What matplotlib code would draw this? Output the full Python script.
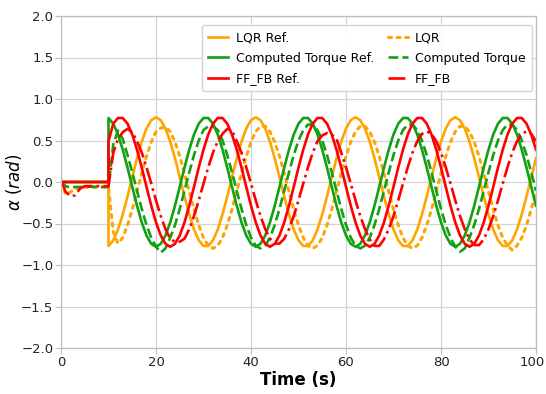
import matplotlib
matplotlib.use('Agg')
import matplotlib.pyplot as plt
from matplotlib.transforms import ScaledTranslation

plt.rcParams['font.family'] = ['DejaVu Sans']
plt.rcParams['axes.unicode_minus'] = True
plt.rcParams['mathtext.fontset'] = 'dejavusans'

# sample times (s); t = 10 appears twice to show the step of the references
time_s = list(range(0, 11)) + list(range(10, 101))

x_ticks = [0, 20, 40, 60, 80, 100]
y_ticks = [-2.0, -1.5, -1.0, -0.5, 0.0, 0.5, 1.0, 1.5, 2.0]

lqr_ref = [
    0, 0, 0, 0, 0, 0, 0, 0, 0, 0, 0,
    -0.771, -0.703, -0.572, -0.39, -0.174, 0.058, 0.285, 0.486, 0.644, 0.745, 0.78, 0.745, 0.644, 0.486, 0.285, 0.058, -0.174, -0.39, -0.572, -0.703, -0.771,
    -0.771, -0.703, -0.572, -0.39, -0.174, 0.058, 0.285, 0.486, 0.644, 0.745, 0.78, 0.745, 0.644, 0.486, 0.285, 0.058, -0.174, -0.39, -0.572, -0.703, -0.771,
    -0.771, -0.703, -0.572, -0.39, -0.174, 0.058, 0.285, 0.486, 0.644, 0.745, 0.78, 0.745, 0.644, 0.486, 0.285, 0.058, -0.174, -0.39, -0.572, -0.703, -0.771,
    -0.771, -0.703, -0.572, -0.39, -0.174, 0.058, 0.285, 0.486, 0.644, 0.745, 0.78, 0.745, 0.644, 0.486, 0.285, 0.058, -0.174, -0.39, -0.572, -0.703, -0.771,
    -0.771, -0.703, -0.572, -0.39, -0.174, 0.058, 0.285,
]

ct_ref = [
    0, 0, 0, 0, 0, 0, 0, 0, 0, 0, 0,
    0.771, 0.703, 0.572, 0.39, 0.174, -0.058, -0.285, -0.486, -0.644, -0.745, -0.78, -0.745, -0.644, -0.486, -0.285, -0.058, 0.174, 0.39, 0.572, 0.703, 0.771,
    0.771, 0.703, 0.572, 0.39, 0.174, -0.058, -0.285, -0.486, -0.644, -0.745, -0.78, -0.745, -0.644, -0.486, -0.285, -0.058, 0.174, 0.39, 0.572, 0.703, 0.771,
    0.771, 0.703, 0.572, 0.39, 0.174, -0.058, -0.285, -0.486, -0.644, -0.745, -0.78, -0.745, -0.644, -0.486, -0.285, -0.058, 0.174, 0.39, 0.572, 0.703, 0.771,
    0.771, 0.703, 0.572, 0.39, 0.174, -0.058, -0.285, -0.486, -0.644, -0.745, -0.78, -0.745, -0.644, -0.486, -0.285, -0.058, 0.174, 0.39, 0.572, 0.703, 0.771,
    0.771, 0.703, 0.572, 0.39, 0.174, -0.058, -0.285,
]

ff_ref = [
    0, 0, 0, 0, 0, 0, 0, 0, 0, 0, 0,
    0.49, 0.703, 0.771,
    0.771, 0.703, 0.572, 0.39, 0.174, -0.058, -0.285, -0.486, -0.644, -0.745, -0.78, -0.745, -0.644, -0.486, -0.285, -0.058, 0.174, 0.39, 0.572, 0.703, 0.771,
    0.771, 0.703, 0.572, 0.39, 0.174, -0.058, -0.285, -0.486, -0.644, -0.745, -0.78, -0.745, -0.644, -0.486, -0.285, -0.058, 0.174, 0.39, 0.572, 0.703, 0.771,
    0.771, 0.703, 0.572, 0.39, 0.174, -0.058, -0.285, -0.486, -0.644, -0.745, -0.78, -0.745, -0.644, -0.486, -0.285, -0.058, 0.174, 0.39, 0.572, 0.703, 0.771,
    0.771, 0.703, 0.572, 0.39, 0.174, -0.058, -0.285, -0.486, -0.644, -0.745, -0.78, -0.745, -0.644, -0.486, -0.285, -0.058, 0.174, 0.39, 0.572, 0.703, 0.771,
    0.771, 0.703, 0.572, 0.39,
]

lqr_resp = [
    0.0, -0.15, -0.12, -0.08, -0.07, -0.065, -0.06, -0.06, -0.06, -0.06, -0.06,
    -0.06, -0.6,
    -0.74, -0.671, -0.521, -0.33, -0.115, 0.105, 0.31, 0.482, 0.607, 0.65, 0.66, 0.607, 0.482, 0.31, 0.105, -0.115, -0.33, -0.521, -0.671, -0.767,
    -0.8, -0.767, -0.671, -0.521, -0.33, -0.115, 0.105, 0.31, 0.482, 0.607, 0.672, 0.672, 0.607, 0.482, 0.31, 0.105, -0.115, -0.33, -0.521, -0.671, -0.767,
    -0.8, -0.767, -0.671, -0.521, -0.33, -0.115, 0.105, 0.31, 0.482, 0.607, 0.672, 0.672, 0.607, 0.482, 0.31, 0.105, -0.115, -0.33, -0.521, -0.671, -0.767,
    -0.8, -0.767, -0.671, -0.521, -0.33, -0.115, 0.105, 0.31, 0.482, 0.607, 0.672, 0.672, 0.607, 0.482, 0.31, 0.105, -0.115, -0.33, -0.521, -0.671, -0.767,
    -0.82, -0.767, -0.671, -0.521, -0.33, -0.115,
]

ct_resp = [
    0.0, -0.05, -0.07, -0.06, -0.06, -0.06, -0.055, -0.06, -0.06, -0.06, -0.06,
    -0.06, 0.45, 0.62, 0.52,
    0.325, 0.117, -0.106, -0.324, -0.518, -0.67, -0.78, -0.85, -0.8, -0.67, -0.518, -0.324, -0.106, 0.117, 0.325, 0.5, 0.626, 0.67,
    0.67, 0.626, 0.5, 0.325, 0.117, -0.106, -0.324, -0.518, -0.67, -0.767, -0.8, -0.767, -0.67, -0.518, -0.324, -0.106, 0.117, 0.325, 0.5, 0.626, 0.692,
    0.692, 0.626, 0.5, 0.325, 0.117, -0.106, -0.324, -0.518, -0.67, -0.767, -0.8, -0.767, -0.67, -0.518, -0.324, -0.106, 0.117, 0.325, 0.5, 0.626, 0.692,
    0.692, 0.626, 0.5, 0.325, 0.117, -0.106, -0.324, -0.518, -0.67, -0.78, -0.84, -0.8, -0.67, -0.518, -0.324, -0.106, 0.117, 0.325, 0.5, 0.626, 0.692,
    0.692, 0.626, 0.5, 0.325, 0.117, -0.106,
]

ff_resp = [
    0.02, -0.12, -0.17, -0.16, -0.08, -0.05, -0.05, -0.05, -0.05, -0.05, -0.05,
    -0.05, 0.35, 0.52, 0.6, 0.64, 0.6,
    0.492, 0.354, 0.178, -0.019, -0.221, -0.41, -0.568, -0.683, -0.72, -0.72, -0.683, -0.568, -0.41, -0.221, -0.019, 0.178, 0.354, 0.492, 0.58,
    0.64, 0.62, 0.492, 0.354, 0.178, -0.019, -0.221, -0.41, -0.568, -0.683, -0.742, -0.742, -0.683, -0.568, -0.41, -0.221, -0.019, 0.178, 0.354, 0.492, 0.56,
    0.59, 0.57, 0.52, 0.354, 0.178, -0.019, -0.221, -0.41, -0.568, -0.69, -0.77, -0.77, -0.69, -0.568, -0.41, -0.221, -0.019, 0.178, 0.354, 0.492, 0.58,
    0.61, 0.58, 0.492, 0.354, 0.178, -0.019, -0.221, -0.41, -0.568, -0.69, -0.76, -0.76, -0.69, -0.568, -0.41, -0.221, -0.019, 0.178, 0.354, 0.492, 0.58,
    0.61, 0.58, 0.492,
]

ORANGE = '#FFA500'
GREEN = '#13A013'
RED = '#FF0000'

fig = plt.figure(figsize=(5.46, 3.94), dpi=100)
fig.patch.set_facecolor('white')
ax = fig.add_axes([61 / 546, 1 - 348 / 394, 475 / 546, 332 / 394])
ax.set_facecolor('white')

lw = 1.9
h_lqr_ref, = ax.plot(time_s, lqr_ref, color=ORANGE, lw=lw, label='LQR Ref.')
h_lqr, = ax.plot(time_s, lqr_resp, color=ORANGE, lw=lw + 0.3, linestyle=(0, (1, 1.8)),
                 dash_capstyle='round', label='LQR')
h_ct_ref, = ax.plot(time_s, ct_ref, color=GREEN, lw=lw, label='Computed Torque Ref.')
h_ct, = ax.plot(time_s, ct_resp, color=GREEN, lw=lw, linestyle=(0, (3.7, 1.6)),
                label='Computed Torque')
h_ff_ref, = ax.plot(time_s, ff_ref, color=RED, lw=lw, label='FF_FB Ref.')
h_ff, = ax.plot(time_s, ff_resp, color=RED, lw=lw, linestyle=(0, (6.4, 1.6, 1.0, 1.6)),
                label='FF_FB')

ax.set_xlim(0, 100)
ax.set_ylim(-2.0, 2.0)
ax.set_xticks(x_ticks)
ax.set_yticks(y_ticks)
ax.set_yticklabels([f'{v:.1f}'.replace('-', '\u2212') for v in y_ticks])

ax.grid(True, color='#d5d5d5', lw=0.9)
ax.set_axisbelow(True)
for s in ax.spines.values():
    s.set_color('#bdbdbd')
    s.set_linewidth(0.9)
ax.tick_params(axis='both', labelsize=9.5, length=4, width=0.8, color='#bdbdbd',
               labelcolor='#222222', pad=1.5)

# keep the last x tick label inside the picture
last = ax.get_xticklabels()[-1]
last.set_transform(last.get_transform() + ScaledTranslation(-4 / 100, 0, fig.dpi_scale_trans))

ax.set_xlabel('Time (s)', fontsize=12, fontweight='bold', labelpad=2)
ax.set_ylabel(r'$\alpha\ (rad)$', fontsize=12)
ax.yaxis.set_label_coords(-0.077, 0.5)

leg = ax.legend(handles=[h_lqr_ref, h_ct_ref, h_ff_ref, h_lqr, h_ct, h_ff],
                ncol=2, loc='upper right', bbox_to_anchor=(0.9916, 0.9729),
                borderaxespad=0, fontsize=9, frameon=True, fancybox=True,
                edgecolor='#d0d0d0', framealpha=0.9, handlelength=1.6,
                handletextpad=0.6, columnspacing=1.1, labelspacing=0.6,
                borderpad=0.5)

fig.savefig('out.png', dpi=100, facecolor='white')
